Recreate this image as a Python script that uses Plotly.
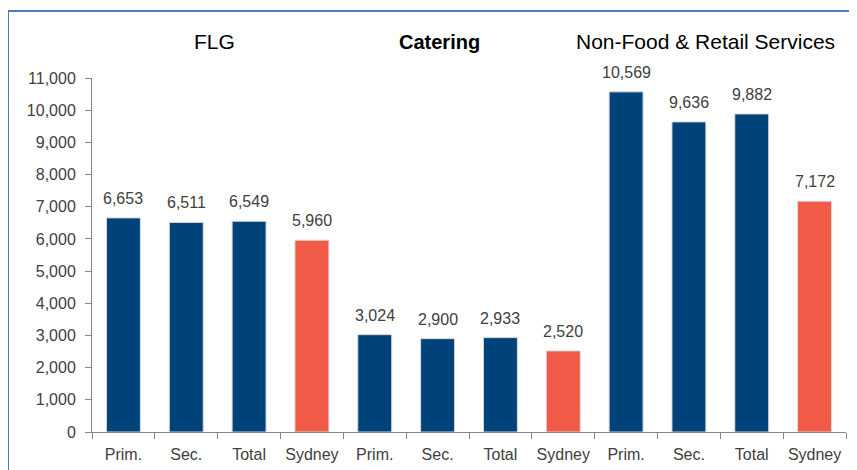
import plotly.graph_objects as go

labels = ["Prim.", "Sec.", "Total", "Sydney"] * 3
values = [6653, 6511, 6549, 5960, 3024, 2900, 2933, 2520, 10569, 9636, 9882, 7172]
groups = ["FLG", "<b>Catering</b>", "Non-Food &amp; Retail Services"]
group_pos = [0.163, 0.4615, 0.8137]
group_size = [21, 20, 21]
yticks = list(range(0, 11001, 1000))

BLUE = "#00427A"
RED = "#F05A47"
colors = [RED if l == "Sydney" else BLUE for l in labels]
xs = list(range(len(values)))

fig = go.Figure()
fig.add_trace(go.Bar(
    x=xs, y=values, width=0.54,
    marker=dict(color=colors, line=dict(color="#D9D9D9", width=1)),
    hoverinfo="skip",
))

annotations = []
for x, v in zip(xs, values):
    annotations.append(dict(x=x, y=v, xref="x", yref="y", text=f"{v:,}",
                            showarrow=False, yanchor="bottom", yshift=9,
                            font=dict(family="Liberation Sans, Arial", size=16, color="#404040")))
for g, p, s in zip(groups, group_pos, group_size):
    annotations.append(dict(x=p, y=1.1017, xref="paper", yref="paper", text=g,
                            showarrow=False, xanchor="center", yanchor="middle",
                            font=dict(family="Liberation Sans, Arial", size=s, color="#000000")))

fig.update_layout(
    width=857, height=470,
    margin=dict(l=84, r=19, t=70, b=46),
    paper_bgcolor="white", plot_bgcolor="white",
    showlegend=False,
    font=dict(family="Liberation Sans, Arial", size=16, color="#404040"),
    annotations=annotations,
    shapes=[
        dict(type="line", xref="paper", yref="paper", x0=-0.1114, x1=1.2, y0=1.189, y1=1.189,
             line=dict(color="#4A7EBB", width=2)),
        dict(type="line", xref="paper", yref="paper", x0=-0.1114, x1=-0.1114, y0=-0.3, y1=1.189,
             line=dict(color="#4A7EBB", width=2)),
    ],
)
fig.update_xaxes(
    range=[-0.5, len(values) - 0.5],
    tickvals=xs, ticktext=labels, ticks="", ticklen=0,
    showline=True, linecolor="#868686", linewidth=1,
    showgrid=False, zeroline=False, ticklabelstandoff=8,
    tickfont=dict(size=16, color="#404040"),
    minor=dict(tick0=-0.5, dtick=1, ticks="outside", ticklen=6, tickcolor="#868686", showgrid=False),
)
fig.update_yaxes(
    range=[0, 11000], tickvals=yticks, ticktext=[f"{t:,}" for t in yticks],
    ticks="outside", ticklen=6, tickcolor="#868686",
    showline=True, linecolor="#868686", linewidth=1,
    showgrid=False, zeroline=False, ticklabelstandoff=6,
    tickfont=dict(size=16, color="#404040"),
)

fig.write_html("out.html")
